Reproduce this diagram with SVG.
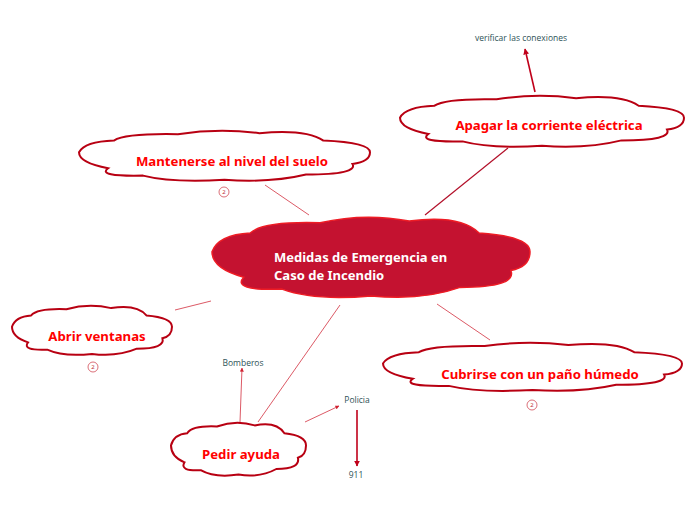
<svg xmlns="http://www.w3.org/2000/svg" width="696" height="520" viewBox="0 0 696 520">
<style>
.cloud{fill:#fff;stroke:#b80012;stroke-width:2}
.main{fill:#c41230;stroke:#ee1c25;stroke-width:1.5}
.lbl{font-family:"Noto Sans","Open Sans",sans-serif;font-weight:bold;font-size:13.2px;fill:#ff0000;text-anchor:middle}
.mlbl{font-family:"Noto Sans","Open Sans",sans-serif;font-weight:bold;font-size:13px;fill:#ffffff}
.sm{font-family:"Open Sans","Noto Sans",sans-serif;font-size:8.5px;fill:#2e5257;text-anchor:middle}
.badge{fill:#fff;stroke:#d04a55;stroke-width:0.8}
.btxt{font-family:"Noto Sans",sans-serif;font-size:6px;fill:#c03040;text-anchor:middle}
.con{stroke:#dc5a66;stroke-width:1;fill:none}
.conD{stroke:#b3102a;stroke-width:1.2;fill:none}
.arr{stroke:#c0001a;stroke-width:1.6;fill:none}
</style>
<defs>
<marker id="ah" viewBox="0 0 10 10" refX="9" refY="5" markerWidth="6" markerHeight="6" orient="auto" markerUnits="userSpaceOnUse"><path d="M0,0 L10,5 L0,10 Z" fill="#c0001a"/></marker>
<marker id="ahs" viewBox="0 0 10 10" refX="9" refY="5" markerWidth="4" markerHeight="4" orient="auto" markerUnits="userSpaceOnUse"><path d="M0,0 L10,5 L0,10 Z" fill="#d02030"/></marker>
</defs>
<g id="connectors">
<line class="con" x1="265" y1="185" x2="309" y2="215"/>
<line class="conD" x1="508" y1="148" x2="425" y2="215"/>
<line class="con" x1="175" y1="310" x2="211" y2="301"/>
<line class="con" x1="437" y1="304" x2="490" y2="340"/>
<line class="con" x1="340" y1="305" x2="258" y2="422"/>
<line class="con" x1="240" y1="422" x2="242" y2="368" marker-end="url(#ahs)"/>
<line class="con" x1="305" y1="422" x2="339" y2="406" marker-end="url(#ahs)"/>
<line class="arr" x1="535" y1="92" x2="525" y2="49" marker-end="url(#ah)"/>
<line class="arr" x1="357" y1="410" x2="357" y2="466" marker-end="url(#ah)"/>
</g>
<g id="central">
<path class="main" d="M212,251.7 Q218.4,234.7 250.2,233 Q262.9,221.1 320.1,222.8 Q364.6,212.6 409.2,221.1 Q460,214.3 479.1,233 Q530,236.4 530,251.7 Q530,267 510.9,270.4 Q517.3,287.4 460,287.4 Q421.9,301 371,295.9 Q313.8,301 282,289.1 Q231.1,290.8 243.8,277.2 Q212,268.7 212,251.7 Z"/>
<text class="mlbl" x="274" y="262">Medidas de Emergencia en</text>
<text class="mlbl" x="274" y="280">Caso de Incendio</text>
</g>
<g id="mantenerse">
<path class="cloud" d="M79,152.3 Q84.8,141.7 113.9,140.6 Q125.6,133.2 177.9,134.2 Q218.7,127.9 259.4,133.2 Q306,128.9 323.4,140.6 Q370,142.7 370,152.3 Q370,161.8 352.5,163.9 Q358.4,174.5 306,174.5 Q271.1,183 224.5,179.8 Q172.1,183 143,175.6 Q96.5,176.6 108.1,168.2 Q79,162.9 79,152.3 Z"/>
<text class="lbl" x="232" y="166">Mantenerse al nivel del suelo</text>
<circle class="badge" cx="224" cy="192" r="5"/>
<text class="btxt" x="224" y="194">2</text>
</g>
<g id="apagar">
<path class="cloud" d="M400,117.7 Q405.7,106.9 434.1,105.8 Q445.4,98.2 496.6,99.3 Q536.3,92.8 576.1,98.2 Q621.5,93.9 638.6,105.8 Q684,108 684,117.7 Q684,127.4 667,129.6 Q672.6,140.4 621.5,140.4 Q587.4,149 542,145.8 Q490.9,149 462.5,141.4 Q417,142.5 428.4,133.9 Q400,128.5 400,117.7 Z"/>
<text class="lbl" x="549" y="130">Apagar la corriente eléctrica</text>
</g>
<g id="verificar">
<text class="sm" x="521" y="41">verificar las conexiones</text>
</g>
<g id="abrir">
<path class="cloud" d="M12,326.8 Q15.2,316.4 31.2,315.4 Q37.6,308.1 66.4,309.2 Q88.8,302.9 111.2,308.1 Q136.8,304 146.4,315.4 Q172,317.5 172,326.8 Q172,336.2 162.4,338.3 Q165.6,348.7 136.8,348.7 Q117.6,357 92,353.9 Q63.2,357 47.2,349.7 Q21.6,350.8 28,342.4 Q12,337.2 12,326.8 Z"/>
<text class="lbl" x="97" y="341">Abrir ventanas</text>
<circle class="badge" cx="93" cy="367" r="5"/>
<text class="btxt" x="93" y="369">2</text>
</g>
<g id="cubrirse">
<path class="cloud" d="M383,363.4 Q389,353.2 418.9,352.2 Q430.8,345.1 484.7,346.1 Q526.5,340 568.4,345.1 Q616.2,341 634.2,352.2 Q682,354.2 682,363.4 Q682,372.6 664.1,374.6 Q670,384.8 616.2,384.8 Q580.3,393 532.5,390 Q478.7,393 448.8,385.9 Q400.9,386.9 412.9,378.7 Q383,373.6 383,363.4 Z"/>
<text class="lbl" x="540" y="379">Cubrirse con un paño húmedo</text>
<circle class="badge" cx="532" cy="405" r="5"/>
<text class="btxt" x="532" y="407">2</text>
</g>
<g id="pedir">
<path class="cloud" d="M171,445.5 Q173.7,434.3 187.2,433.2 Q192.6,425.4 216.9,426.5 Q235.8,419.8 254.7,425.4 Q276.3,420.9 284.4,433.2 Q306,435.4 306,445.5 Q306,455.6 297.9,457.8 Q300.6,469 276.3,469 Q260.1,478 238.5,474.6 Q214.2,478 200.7,470.2 Q179.1,471.3 184.5,462.3 Q171,456.7 171,445.5 Z"/>
<text class="lbl" x="241" y="459">Pedir ayuda</text>
</g>
<g id="bomberos"><text class="sm" x="243" y="366">Bomberos</text></g>
<g id="policia"><text class="sm" x="357" y="403">Policia</text></g>
<g id="n911"><text class="sm" x="356" y="478">911</text></g>
</svg>
